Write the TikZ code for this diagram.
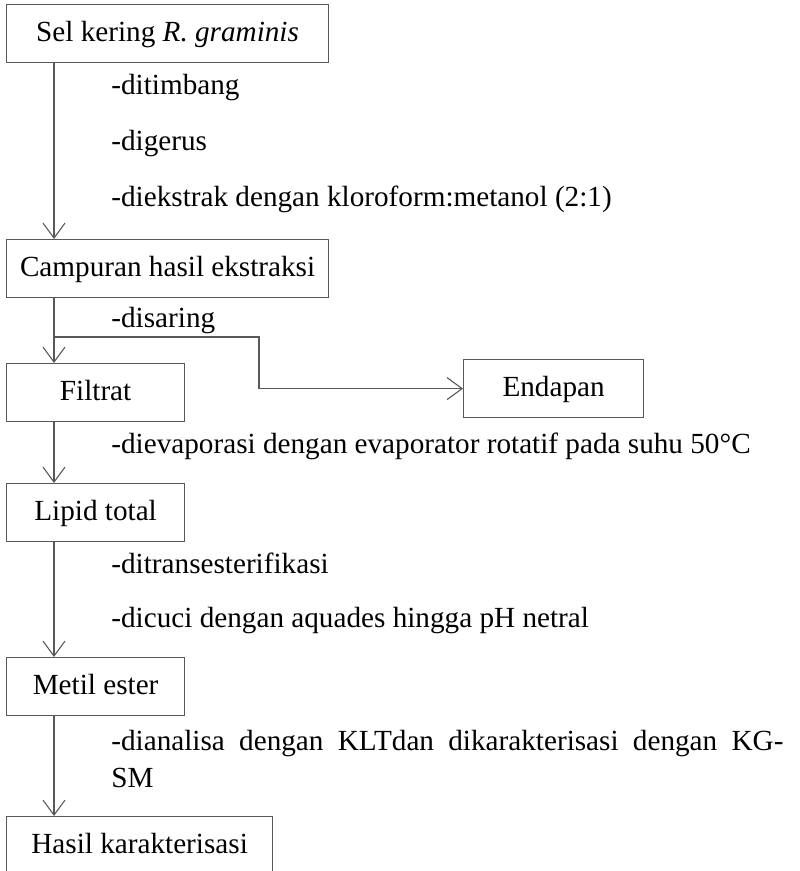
\documentclass[tikz,border=0pt]{standalone}
\usepackage{fontspec}
\setmainfont{Liberation Serif}
\usetikzlibrary{arrows.meta,calc}
\definecolor{lc}{gray}{0.35}
\tikzset{
  box/.style={draw=lc, line width=0.6pt, rectangle, inner sep=0pt, anchor=north west,
    minimum height=29pt, text height=10.5pt, text depth=3pt, align=center},
  lbl/.style={anchor=base west, inner sep=0pt},
  arr/.style={draw=lc, line width=0.55pt, -{Straight Barb[length=7.5pt,width=11pt,line width=0.55pt]}},
  ln/.style={draw=lc, line width=0.55pt}
}
\begin{document}
\begin{tikzpicture}[x=0.5pt,y=-0.5pt,font=\fontsize{14.6}{17.5}\selectfont]
\useasboundingbox (0,0) rectangle (799,871);
\node[box, minimum width=161pt] (b1) at (6,4) {Sel kering \textit{R. graminis}};
\node[box, minimum width=161pt] (b2) at (6,239) {Campuran hasil ekstraksi};
\node[box, minimum width=89pt] (b3) at (6,363) {Filtrat};
\node[box, minimum width=90pt] (end) at (463,359) {Endapan};
\node[box, minimum width=89pt] (b4) at (6,483) {Lipid total};
\node[box, minimum width=89pt] (b5) at (6,657) {Metil ester};
\node[box, minimum width=133pt] (b6) at (6,816) {Hasil karakterisasi};

\node[lbl] (t1) at (111,95) {-ditimbang};
\node[lbl] (t2) at (111,151) {-digerus};
\node[lbl] (t3) at (111,207) {-diekstrak dengan kloroform:metanol (2:1)};
\node[lbl] (t4) at (111,328) {-disaring};
\node[lbl] (t5) at (111,453) {-dievaporasi dengan evaporator rotatif pada suhu 50°C};
\node[lbl] (t6) at (111,573) {-ditransesterifikasi};
\node[lbl] (t7) at (111,627) {-dicuci dengan aquades hingga pH netral};
\node[lbl] (t8) at (111,750) {\makebox[336pt][s]{-dianalisa dengan KLTdan dikarakterisasi dengan KG-}};
\node[lbl] (t9) at (111,787) {SM};

\draw[arr] ([xshift=24pt]b1.south west) -- ([xshift=24pt]b2.north west);
\draw[arr] ([xshift=24pt]b2.south west) -- ([xshift=24pt]b3.north west);
\coordinate (br) at (54,337);
\draw[arr] (br) -- (259,337) |- (end.west);
\draw[arr] ([xshift=24pt]b3.south west) -- ([xshift=24pt]b4.north west);
\draw[arr] ([xshift=24pt]b4.south west) -- ([xshift=24pt]b5.north west);
\draw[arr] ([xshift=24pt]b5.south west) -- ([xshift=24pt]b6.north west);
\end{tikzpicture}
\end{document}
